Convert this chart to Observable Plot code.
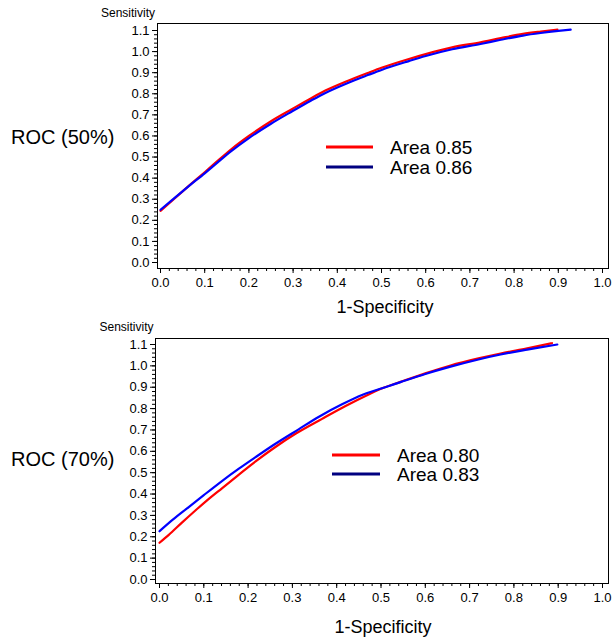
<!DOCTYPE html>
<html>
<head>
<meta charset="utf-8">
<script src="https://cdn.jsdelivr.net/npm/d3@7"></script>
<script src="https://cdn.jsdelivr.net/npm/@observablehq/plot@0.6"></script>
<style>
  html, body { margin: 0; padding: 0; background: #fff; }
  #wrap { position: relative; width: 615px; height: 640px; font-family: "Liberation Sans", Arial, Helvetica, sans-serif; color: #000; }
  .panel { position: absolute; left: 0; width: 615px; height: 320px; }
  .panel svg { position: absolute; left: 0; top: 0; }
  .lbl { position: absolute; white-space: nowrap; line-height: 1; }
  .c { transform: translate(-50%, -50%); }
  .l { transform: translate(0, -50%); }
  .sw { position: absolute; height: 3px; transform: translate(0, -50%); }
</style>
</head>
<body>
<div id="wrap">
  <div class="panel" id="p1" style="top:0px"></div>
  <div class="panel" id="p2" style="top:320px"></div>
</div>
<script>
// ---------- data ----------
const panelTitles = ["ROC (50%)", "ROC (70%)"];
const yAxisTitle = "Sensitivity";
const xAxisTitle = "1-Specificity";
const xTickValues = [0.0, 0.1, 0.2, 0.3, 0.4, 0.5, 0.6, 0.7, 0.8, 0.9, 1.0];
const yTickValues = [0.0, 0.1, 0.2, 0.3, 0.4, 0.5, 0.6, 0.7, 0.8, 0.9, 1.0, 1.1];

// Panel 1: ROC (50%)
const p1RedLabel = "Area 0.85";
const p1RedX = [0, 0.03, 0.064, 0.1, 0.124, 0.16, 0.2, 0.25, 0.298, 0.34, 0.373, 0.42, 0.471, 0.5, 0.562, 0.6, 0.66, 0.724, 0.77, 0.82, 0.86, 0.898];
const p1RedY = [0.245, 0.3, 0.363, 0.428, 0.472, 0.537, 0.60, 0.67, 0.728, 0.778, 0.815, 0.858, 0.90, 0.923, 0.965, 0.988, 1.02, 1.044, 1.064, 1.084, 1.095, 1.104];
const p1BlueLabel = "Area 0.86";
const p1BlueX = [0, 0.03, 0.064, 0.1, 0.124, 0.16, 0.2, 0.25, 0.298, 0.34, 0.373, 0.42, 0.471, 0.5, 0.562, 0.6, 0.66, 0.724, 0.77, 0.82, 0.86, 0.9, 0.928];
const p1BlueY = [0.25, 0.303, 0.362, 0.423, 0.465, 0.528, 0.59, 0.658, 0.717, 0.767, 0.804, 0.848, 0.89, 0.913, 0.955, 0.979, 1.011, 1.036, 1.056, 1.076, 1.088, 1.098, 1.104];

// Panel 2: ROC (70%)
const p2RedLabel = "Area 0.80";
const p2RedX = [0, 0.021, 0.05, 0.081, 0.11, 0.141, 0.18, 0.217, 0.26, 0.307, 0.367, 0.42, 0.472, 0.5, 0.544, 0.6, 0.657, 0.72, 0.77, 0.83, 0.886];
const p2RedY = [0.172, 0.209, 0.265, 0.323, 0.375, 0.427, 0.492, 0.553, 0.618, 0.682, 0.752, 0.812, 0.866, 0.893, 0.925, 0.965, 1.002, 1.035, 1.058, 1.082, 1.106];
const p2BlueLabel = "Area 0.83";
const p2BlueX = [0, 0.03, 0.066, 0.1, 0.141, 0.18, 0.217, 0.26, 0.314, 0.36, 0.412, 0.46, 0.518, 0.544, 0.6, 0.653, 0.72, 0.77, 0.83, 0.898];
const p2BlueY = [0.226, 0.28, 0.339, 0.395, 0.461, 0.52, 0.573, 0.633, 0.703, 0.762, 0.82, 0.866, 0.906, 0.924, 0.962, 0.994, 1.03, 1.053, 1.076, 1.10];

// ---------- build ----------
const xMinor = d3.range(0, 50.5, 1).map(i => i / 50);
const yMinor = d3.range(0, 55.5, 1).map(i => i / 50);
const fmt = d3.format(".1f");

function series(xs, ys, key) { return xs.map((x, i) => ({ fpr: x, tpr: ys[i], key })); }

function makePlot(cfg) {
  return Plot.plot({
    width: 615,
    height: 320,
    marginLeft: cfg.ml, marginRight: 7, marginTop: cfg.mt, marginBottom: cfg.mb,
    insetLeft: cfg.il, insetRight: 6, insetTop: cfg.it, insetBottom: cfg.ib,
    x: { domain: [0, 1], label: null },
    y: { domain: [0, 1.1], label: null },
    style: { fontFamily: '"Liberation Sans", Arial, Helvetica, sans-serif', fontSize: "13px", color: "#000", background: "transparent", overflow: "visible" },
    marks: [
      Plot.axisX({ ticks: xMinor, tickSize: 3, tickFormat: () => "", label: null }),
      Plot.axisX({ ticks: xTickValues, tickSize: 5, tickPadding: 4, tickFormat: fmt, label: null }),
      Plot.axisY({ ticks: yMinor, tickSize: 3, tickFormat: () => "", label: null }),
      Plot.axisY({ ticks: yTickValues, tickSize: 5, tickPadding: 3, tickFormat: fmt, label: null }),
      Plot.line(cfg.red, { x: "fpr", y: "tpr", stroke: "#ff0000", strokeWidth: 2.2, curve: "monotone-x" }),
      Plot.line(cfg.blue, { x: "fpr", y: "tpr", stroke: "#0000ff", strokeWidth: 2.2, curve: "monotone-x" }),
      Plot.frame({ stroke: "#000", strokeWidth: 1 })
    ]
  });
}

function addLabel(panel, text, cls, x, y, size) {
  const d = document.createElement("div");
  d.className = "lbl " + cls;
  d.style.left = x + "px"; d.style.top = y + "px"; d.style.fontSize = size + "px";
  d.textContent = text;
  panel.appendChild(d);
}
function addSwatch(panel, color, x1, x2, y) {
  const d = document.createElement("div");
  d.className = "sw";
  d.style.left = x1 + "px"; d.style.width = (x2 - x1) + "px"; d.style.top = y + "px"; d.style.background = color;
  panel.appendChild(d);
}

const panels = [
  { el: "p1", ml: 157, mt: 23, mb: 52, il: 3, it: 7, ib: 6,
    red: series(p1RedX, p1RedY, p1RedLabel), blue: series(p1BlueX, p1BlueY, p1BlueLabel),
    redLabel: p1RedLabel, blueLabel: p1BlueLabel, title: panelTitles[0],
    sens: [128, 12.5], roc: [11, 137], xl: [385, 307],
    leg: { x1: 326, x2: 373, tx: 390, yr: 146.5, yb: 166.5 } },
  { el: "p2", ml: 155, mt: 18, mb: 57, il: 4, it: 6, ib: 4,
    red: series(p2RedX, p2RedY, p2RedLabel), blue: series(p2BlueX, p2BlueY, p2BlueLabel),
    redLabel: p2RedLabel, blueLabel: p2BlueLabel, title: panelTitles[1],
    sens: [126.5, 7], roc: [11, 139], xl: [383, 307],
    leg: { x1: 332, x2: 380, tx: 397, yr: 134.5, yb: 154 } }
];

for (const p of panels) {
  const host = document.getElementById(p.el);
  host.appendChild(makePlot(p));
  addLabel(host, yAxisTitle, "c", p.sens[0], p.sens[1], 12);
  addLabel(host, p.title, "l", p.roc[0], p.roc[1], 20);
  addLabel(host, xAxisTitle, "c", p.xl[0], p.xl[1], 18);
  addSwatch(host, "#ff0000", p.leg.x1, p.leg.x2, p.leg.yr);
  addSwatch(host, "#000080", p.leg.x1, p.leg.x2, p.leg.yb);
  addLabel(host, p.redLabel, "l", p.leg.tx, p.leg.yr, 19);
  addLabel(host, p.blueLabel, "l", p.leg.tx, p.leg.yb, 19);
}
</script>
</body>
</html>
